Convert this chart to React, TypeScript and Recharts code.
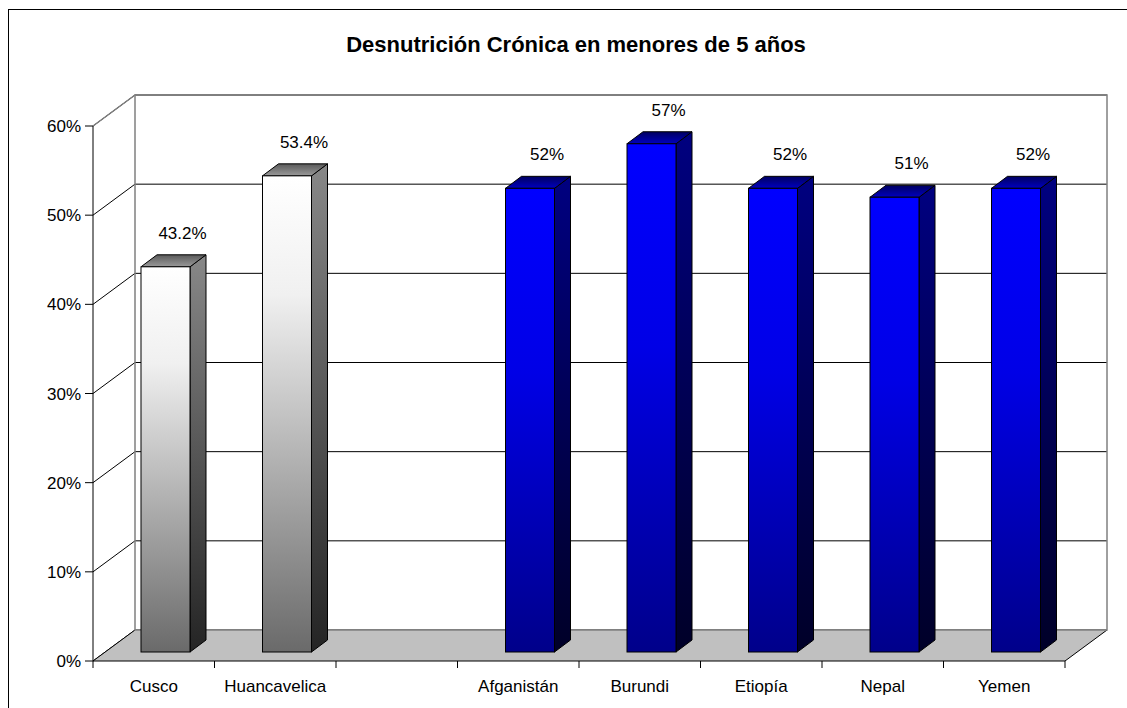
import React from 'react';
import { BarChart, Bar, XAxis, YAxis, CartesianGrid, ReferenceArea } from 'recharts';

const categories = ['Cusco', 'Huancavelica', '', 'Afganistán', 'Burundi', 'Etiopía', 'Nepal', 'Yemen'];
const values: (number | null)[] = [43.2, 53.4, null, 52, 57, 52, 51, 52];
const grayBars = ['Cusco', 'Huancavelica'];
const yTicks = [0, 10, 20, 30, 40, 50, 60];

const data = categories.map((name, i) => ({ name, value: values[i] }));

// oblique 3D look: back wall offset, bar front offset, bar depth
const DX = 42;
const DY = -31;
const FX = 12;
const FY = -9;
const BX = 16;
const BY = -12;

const FONT = "'Liberation Sans', Arial, sans-serif";

const fmtLabel = (v: number) => (Number.isInteger(v) ? `${v}%` : `${v.toFixed(1)}%`);

const Bar3D = (props: any) => {
  const { x, y, width, height, payload } = props;
  if (payload == null || payload.value == null) return null;
  const p = grayBars.includes(payload.name) ? 'g' : 'b';
  const x0 = x + FX;
  const y0 = y + FY;
  const w = width;
  const h = height;
  return (
    <g>
      <polygon
        points={`${x0 + w},${y0} ${x0 + w + BX},${y0 + BY} ${x0 + w + BX},${y0 + h + BY} ${x0 + w},${y0 + h}`}
        fill={`url(#${p}Side)`}
        stroke="#000"
        strokeWidth={1}
      />
      <polygon
        points={`${x0},${y0} ${x0 + BX},${y0 + BY} ${x0 + w + BX},${y0 + BY} ${x0 + w},${y0}`}
        fill={`url(#${p}Top)`}
        stroke="#000"
        strokeWidth={1}
      />
      <rect x={x0} y={y0} width={w} height={h} fill={`url(#${p}Front)`} stroke="#000" strokeWidth={1} />
      <text x={x0 + w / 2 + 17} y={y0 - 28} textAnchor="middle" fontSize={17} fontFamily={FONT} fill="#000">
        {fmtLabel(payload.value)}
      </text>
    </g>
  );
};

// floor, wall edges
const Walls = (props: any) => {
  const { x, y, width, height } = props;
  const bottom = y + height;
  const right = x + width;
  return (
    <g>
      <polygon
        points={`${x},${bottom} ${right},${bottom} ${right + DX},${bottom + DY} ${x + DX},${bottom + DY}`}
        fill="#c0c0c0"
      />
      <line x1={x} y1={bottom} x2={x + DX} y2={bottom + DY} stroke="#000" />
      <line x1={right} y1={bottom} x2={right + DX} y2={bottom + DY} stroke="#000" />
      <rect x={x + DX} y={y + DY} width={width} height={height} fill="none" stroke="#808080" strokeWidth={1.5} />
      <line x1={x} y1={y} x2={x + DX} y2={y + DY} stroke="#808080" strokeWidth={1.5} />
    </g>
  );
};

const GridLine = (props: any) => {
  const { x1, y1, x2 } = props;
  return (
    <g key={props.key}>
      <line x1={x1} y1={y1} x2={x1 + DX} y2={y1 + DY} stroke="#000" strokeWidth={1} />
      <line x1={x1 + DX} y1={y1 + DY} x2={x2 + DX} y2={y1 + DY} stroke="#000" strokeWidth={1} />
    </g>
  );
};

const XTick = (props: any) => {
  const { x, y, payload, index } = props;
  const half = payload.offset ?? 60.75;
  return (
    <g>
      <line x1={x - half} y1={y} x2={x - half} y2={y + 7} stroke="#000" />
      {index === categories.length - 1 && <line x1={x + half} y1={y} x2={x + half} y2={y + 7} stroke="#000" />}
      <text x={x} y={y + 31} textAnchor="middle" fontSize={17} fontFamily={FONT} fill="#000">
        {payload.value}
      </text>
    </g>
  );
};

export default function App() {
  return (
    <div
      style={{
        position: 'absolute',
        left: 8,
        top: 9,
        width: 1118,
        height: 698,
        borderLeft: '1px solid #000',
        borderTop: '1px solid #000',
        background: '#fff',
        overflow: 'hidden',
      }}
    >
      <div
        style={{
          position: 'absolute',
          left: 0,
          top: 24,
          width: 1134,
          textAlign: 'center',
          fontFamily: FONT,
          fontWeight: 'bold',
          fontSize: 22,
          lineHeight: '22px',
          color: '#000',
        }}
      >
        Desnutrición Crónica en menores de 5 años
      </div>
      <div style={{ position: 'absolute', left: 0, top: 0 }}>
        <BarChart width={1118} height={698} data={data} margin={{ top: 116, right: 62, left: 24, bottom: 7 }}>
          <defs>
            <linearGradient id="gFront" x1="0" y1="0" x2="0" y2="1">
              <stop offset="0%" stopColor="#ffffff" />
              <stop offset="25%" stopColor="#f0f0f0" />
              <stop offset="100%" stopColor="#6a6a6a" />
            </linearGradient>
            <linearGradient id="gSide" x1="0" y1="0" x2="0" y2="1">
              <stop offset="0%" stopColor="#888888" />
              <stop offset="100%" stopColor="#242424" />
            </linearGradient>
            <linearGradient id="gTop" x1="0" y1="0" x2="0" y2="1">
              <stop offset="0%" stopColor="#5a5a5a" />
              <stop offset="100%" stopColor="#9a9a9a" />
            </linearGradient>
            <linearGradient id="bFront" x1="0" y1="0" x2="0" y2="1">
              <stop offset="0%" stopColor="#0000ff" />
              <stop offset="40%" stopColor="#0000e6" />
              <stop offset="100%" stopColor="#00008a" />
            </linearGradient>
            <linearGradient id="bSide" x1="0" y1="0" x2="0" y2="1">
              <stop offset="0%" stopColor="#000080" />
              <stop offset="100%" stopColor="#000028" />
            </linearGradient>
            <linearGradient id="bTop" x1="0" y1="0" x2="0" y2="1">
              <stop offset="0%" stopColor="#000060" />
              <stop offset="100%" stopColor="#0000c0" />
            </linearGradient>
          </defs>
          <CartesianGrid horizontal={GridLine as any} vertical={false} />
          <ReferenceArea y1={0} y2={60} shape={<Walls />} ifOverflow="visible" />
          <XAxis
            dataKey="name"
            interval={0}
            height={40}
            axisLine={{ stroke: '#000' }}
            tickLine={false}
            tickSize={0}
            tickMargin={0}
            tick={<XTick />}
          />
          <YAxis
            width={60}
            domain={[0, 60]}
            ticks={yTicks}
            interval={0}
            axisLine={{ stroke: '#000' }}
            tickLine={{ stroke: '#000' }}
            tickSize={8}
            tickMargin={4}
            tick={{ fill: '#000', fontSize: 17, fontFamily: FONT }}
            tickFormatter={(v) => `${v}%`}
          />
          <Bar dataKey="value" barSize={49} isAnimationActive={false} shape={<Bar3D />} />
        </BarChart>
      </div>
    </div>
  );
}
